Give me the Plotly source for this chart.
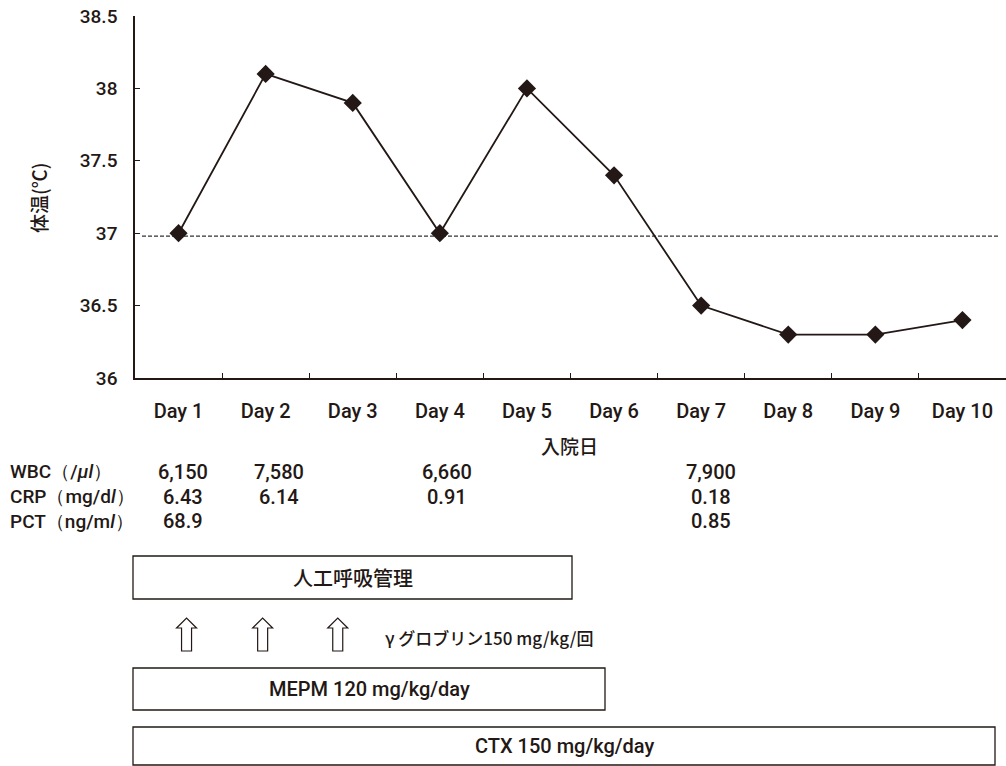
import plotly.graph_objects as go

# Body temperature by hospital day
days = ["Day 1", "Day 2", "Day 3", "Day 4", "Day 5", "Day 6", "Day 7", "Day 8", "Day 9", "Day 10"]
temps = [37.0, 38.1, 37.9, 37.0, 38.0, 37.4, 36.5, 36.3, 36.3, 36.4]
reference_temp = 36.98

# Laboratory values shown under the axis
wbc_days = ["Day 1", "Day 2", "Day 4", "Day 7"]
wbc_vals = ["6,150", "7,580", "6,660", "7,900"]
crp_days = ["Day 1", "Day 2", "Day 4", "Day 7"]
crp_vals = ["6.43", "6.14", "0.91", "0.18"]
pct_days = ["Day 1", "Day 7"]
pct_vals = ["68.9", "0.85"]

# Treatments
gamma_days = ["Day 1", "Day 2", "Day 3"]

INK = "#231815"
LATIN = "Roboto, Liberation Sans, Arial, sans-serif"
CJK = "Noto Sans CJK JP, Roboto, sans-serif"

W, H = 1006, 766
PL, PR, PT, PB = 135, 1006, 16, 378


def xp(px):
    return (px - PL) / (PR - PL)


def yp(py):
    return (PB - py) / (PB - PT)


def label(text, x, y, family, size, xanchor="center", xref="paper", xshift=0, angle=0, weight=500):
    return dict(text=text, xref=xref, yref="paper", x=x, y=y,
                xanchor=xanchor, yanchor="middle", xshift=xshift,
                textangle=angle, showarrow=False,
                font=dict(family=family, size=size, color=INK, weight=weight))


fig = go.Figure()
fig.add_trace(go.Scatter(
    x=days, y=temps, mode="lines+markers",
    line=dict(color=INK, width=1.8),
    marker=dict(symbol="diamond", size=14, color=INK),
    showlegend=False, hoverinfo="skip",
))

shapes = []
annotations = []

# dashed 37 °C guide
shapes.append(dict(type="line", xref="paper", yref="y", layer="below",
                   x0=xp(142), x1=xp(998), y0=reference_temp, y1=reference_temp,
                   line=dict(color="#333333", width=1.2, dash="4px,2px")))

# axis titles
annotations.append(label("体温(℃)", xp(39), yp(198), CJK, 19, angle=-90))
annotations.append(label("入院日", xp(569), yp(445), CJK, 19))

# lab table
row_y = {"WBC": 472, "CRP": 497, "PCT": 521}
row_label = {
    "WBC": "WBC（/<i>μl</i>）",
    "CRP": "CRP（mg/d<i>l</i>）",
    "PCT": "PCT（ng/m<i>l</i>）",
}
col_shift = {"Day 1": 4, "Day 2": 13, "Day 4": 7, "Day 7": 10}
for key, dlist, vlist in (("WBC", wbc_days, wbc_vals),
                          ("CRP", crp_days, crp_vals),
                          ("PCT", pct_days, pct_vals)):
    annotations.append(label(row_label[key], xp(8), yp(row_y[key]), LATIN, 19, xanchor="left"))
    for d, v in zip(dlist, vlist):
        annotations.append(label(v, days.index(d), yp(row_y[key]), LATIN, 20,
                                 xref="x", xshift=col_shift[d]))

# treatment bars
bars = [
    ("人工呼吸管理", 133, 572, 556, 599, CJK, 20),
    ("MEPM 120 mg/kg/day", 133, 605, 668, 710, LATIN, 20),
    ("CTX 150 mg/kg/day", 133, 995, 727, 765, LATIN, 20),
]
for text, x0, x1, y0, y1, fam, fs in bars:
    shapes.append(dict(type="rect", xref="paper", yref="paper",
                       x0=xp(x0), x1=xp(x1), y0=yp(y1), y1=yp(y0),
                       line=dict(color=INK, width=1.3), fillcolor="white"))
    annotations.append(label(text, (xp(x0) + xp(x1)) / 2, yp((y0 + y1) / 2), fam, fs))

# γ-globulin dose arrows
arrow_shift = [8, -3, -15]
arrow_path = "M -5,0 L 5,0 L 5,23 L 10,23 L 0,33 L -10,23 L -5,23 Z"
for d, s in zip(gamma_days, arrow_shift):
    shapes.append(dict(type="path", xref="x", yref="paper",
                       xsizemode="pixel", ysizemode="pixel",
                       xanchor=days.index(d) + s / 87.1, yanchor=yp(651),
                       path=arrow_path,
                       line=dict(color=INK, width=1.2), fillcolor="white"))
annotations.append(label("γ グロブリン150 mg/kg/回", xp(383), yp(637), CJK, 17, xanchor="left"))

fig.update_layout(
    width=W, height=H,
    margin=dict(l=PL, r=W - PR, t=PT, b=H - PB),
    paper_bgcolor="white", plot_bgcolor="white",
    shapes=shapes, annotations=annotations,
    xaxis=dict(
        type="category", range=[-0.5, 9.5],
        showline=True, linecolor=INK, linewidth=1.5,
        ticks="inside", ticklen=5, tickcolor=INK, tickson="boundaries",
        showgrid=False, zeroline=False,
        ticklabelstandoff=14,
        tickfont=dict(family=LATIN, size=20, color=INK, weight=500),
    ),
    yaxis=dict(
        range=[36, 38.5], dtick=0.5, tick0=36,
        showline=True, linecolor=INK, linewidth=1.5,
        ticks="inside", ticklen=5, tickcolor=INK,
        showgrid=False, zeroline=False,
        ticklabelstandoff=12,
        tickfont=dict(family=LATIN, size=19, color=INK, weight=500),
    ),
)

fig.write_html("out.html")
